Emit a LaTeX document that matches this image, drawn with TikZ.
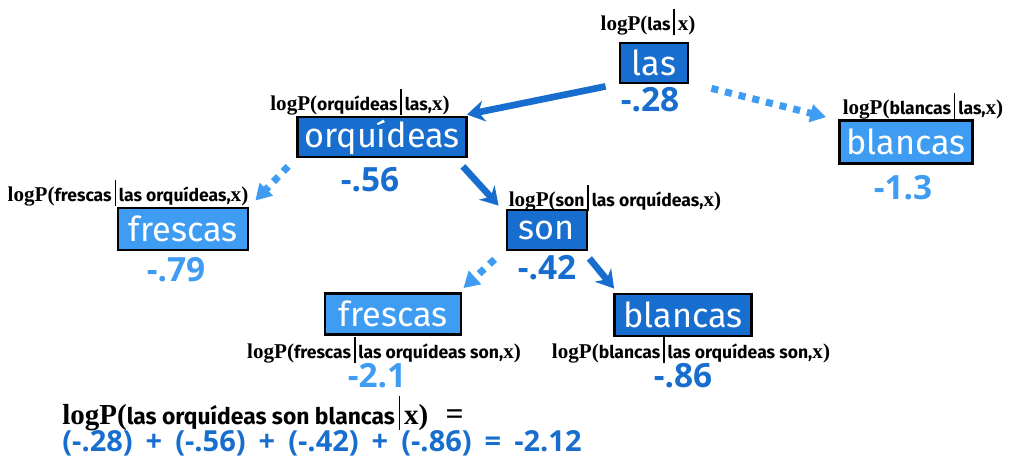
\documentclass[tikz,border=0pt]{standalone}
\usepackage{fontspec}
\setsansfont{Fira Sans}
\newfontfamily\lpfont{Liberation Serif}
\newfontfamily\numfont{Open Sans}
\usetikzlibrary{arrows.meta,positioning}
\definecolor{tokdark}{RGB}{24,110,206}
\definecolor{toklight}{RGB}{62,156,242}
\newcommand{\logp}[3][10]{{\lpfont\bfseries logP(}{\sffamily\bfseries\fontsize{#1}{#1}\selectfont #2\,\rule[-0.45ex]{0.8pt}{2.8ex}\,#3}{\lpfont\bfseries x)}}

\begin{document}
\begin{tikzpicture}[
    x=0.02cm, y=-0.02cm,
    tok/.style={draw=black, line width=1.6pt, text=white, font=\sffamily\fontsize{19.5}{22}\selectfont, minimum height=0.8cm, inner sep=0pt},
    dark/.style={tok, fill=tokdark},
    light/.style={tok, fill=toklight},
    lbl/.style={font=\fontsize{12}{14}\selectfont, inner sep=0pt},
    num/.style={font=\numfont\bfseries\fontsize{19}{21}\selectfont, inner sep=0pt},
    best/.style={draw=tokdark, line width=3.8pt, -{Stealth[length=10pt, width=12pt]}},
    alt/.style={draw=toklight, line width=4pt, dash pattern=on 4pt off 4pt, -{Triangle[length=9pt, width=10pt]}}
]
\useasboundingbox (0,0) rectangle (1024,472);

% Step 1
\node[dark, minimum width=1.36cm] (las) at (654,63) {las};
\node[lbl] (lasP) at (648,22) {\logp{las}{}};
\node[num, text=tokdark] (lasN) at (650,100) {-.28};

% Step 2
\node[dark, minimum width=3.38cm] (orq) at (382,137) {orquídeas};
\node[lbl] (orqP) at (360,102) {\logp{orquídeas}{las,}};
\node[num, text=tokdark] (orqN) at (370,180) {-.56};

\node[light, minimum width=2.66cm, minimum height=0.86cm] (blan) at (906,142) {blancas};
\node[lbl] (blanP) at (923,106) {\logp{blancas}{las,}};
\node[num, text=toklight] (blanN) at (903,188) {-1.3};

\draw[best] ([shift={(-13,2)}]las.south west) -- ([shift={(-1,-1)}]orq.north east);
\draw[alt] ([shift={(22,4)}]las.south east) -- ([shift={(-12,-2)}]blan.north west);

% Step 3
\node[light, minimum width=2.6cm, minimum height=0.84cm] (fres) at (183,229) {frescas};
\node[lbl] (fresP) at (128,193) {\logp{frescas}{las orquídeas,}};
\node[num, text=toklight] (fresN) at (176,270) {-.79};

\node[dark, minimum width=1.6cm] (son) at (547,230) {son};
\node[lbl] (sonP) at (615,198) {\logp{son}{las orquídeas,}};
\node[num, text=tokdark] (sonN) at (547,268) {-.42};

\draw[alt] ([shift={(-8,8)}]orq.south west) -- ([shift={(6,-6)}]fres.north east);
\draw[best] ([shift={(-5,8)}]orq.south east) -- ([shift={(-7,-3)}]son.north west);

% Step 4
\node[light, minimum width=2.72cm, minimum height=0.82cm] (fres2) at (393,314) {frescas};
\node[lbl] (fres2P) at (384,350) {\logp{frescas}{las orquídeas son,}};
\node[num, text=toklight] (fres2N) at (377,376) {-2.1};

\node[dark, minimum width=2.74cm, minimum height=0.84cm] (blan2) at (683,315) {blancas};
\node[lbl] (blan2P) at (691,350) {\logp{blancas}{las orquídeas son,}};
\node[num, text=tokdark] (blan2N) at (683,376) {-.86};

\draw[alt] ([shift={(-11,8)}]son.south west) -- ([shift={(1,-4)}]fres2.north east);
\draw[best] ([shift={(1,7)}]son.south east) -- ([shift={(1,-4)}]blan2.north west);

% Sequence score
\node[lbl, anchor=west, font=\fontsize{16.5}{18}\selectfont] (totP) at (62,413) {\logp[13]{las orquídeas son blancas}{}\ \ {\lpfont\bfseries\fontsize{18}{18}\selectfont =}};
\node[num, anchor=west, text=tokdark, font=\numfont\bfseries\fontsize{16.5}{18}\selectfont] (totN) at (62,443) {\spaceskip=0.45em\relax (-.28) + (-.56) + (-.42) + (-.86) = -2.12};

\end{tikzpicture}
\end{document}
